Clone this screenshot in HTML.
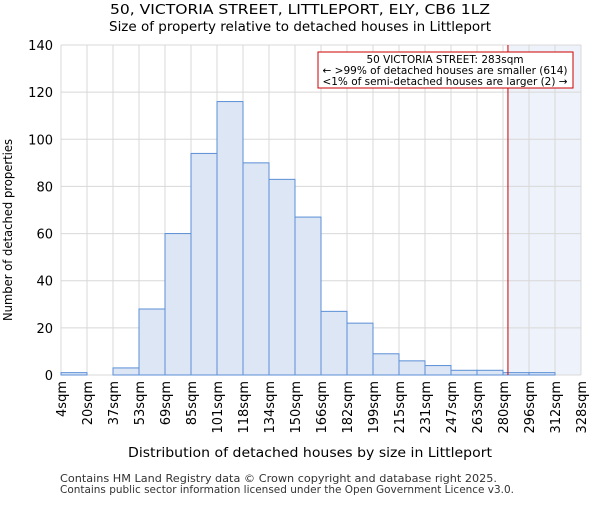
<!DOCTYPE html>
<html><head><meta charset="utf-8"><style>body{margin:0;background:#fff}svg{font-family:"DejaVu Sans","Liberation Sans",sans-serif}</style></head>
<body>
<svg id="c" width="600" height="500">
<text x="300" y="14" font-size="13" text-anchor="middle" textLength="380" lengthAdjust="spacingAndGlyphs">50, VICTORIA STREET, LITTLEPORT, ELY, CB6 1LZ</text>
<text x="300" y="31" font-size="13" text-anchor="middle" textLength="382" lengthAdjust="spacingAndGlyphs">Size of property relative to detached houses in Littleport</text>
<g id="grid"></g><g id="bars"></g><g id="axes"></g>
<text x="310" y="457" font-size="13" text-anchor="middle" textLength="364" lengthAdjust="spacingAndGlyphs">Distribution of detached houses by size in Littleport</text>
<text transform="translate(12,230) rotate(-90)" font-size="12" text-anchor="middle" textLength="182" lengthAdjust="spacingAndGlyphs">Number of detached properties</text>
<text x="60" y="482" font-size="11" fill="#333" textLength="437" lengthAdjust="spacingAndGlyphs">Contains HM Land Registry data © Crown copyright and database right 2025.</text>
<text x="60" y="493" font-size="11" fill="#333" textLength="454" lengthAdjust="spacingAndGlyphs">Contains public sector information licensed under the Open Government Licence v3.0.</text>
</svg>
<script>
const tickLabels=["4sqm","20sqm","37sqm","53sqm","69sqm","85sqm","101sqm","118sqm","134sqm","150sqm","166sqm","182sqm","199sqm","215sqm","231sqm","247sqm","263sqm","280sqm","296sqm","312sqm","328sqm"];
const counts=[1,0,3,28,60,94,116,90,83,67,27,22,9,6,4,2,2,1,1,0];
const yTicks=[0,20,40,60,80,100,120,140];
const propertyBin=17.19;
const X0=61,X1=581,Y0=375,Y1=45,YMAX=140;
const bw=(X1-X0)/counts.length;
const xs=i=>X0+i*bw, ys=v=>Y0-(Y0-Y1)*v/YMAX;
const NS="http://www.w3.org/2000/svg";
function mk(t,a,p,txt){const e=document.createElementNS(NS,t);for(const k in a)e.setAttribute(k,a[k]);if(txt!==undefined)e.textContent=txt;p.appendChild(e);return e;}
const g=document.getElementById('grid'),b=document.getElementById('bars'),ax=document.getElementById('axes');
const px=xs(propertyBin);
let sh=mk('rect',{x:px,y:Y1,width:X1-px,height:Y0-Y1,fill:'#eef2fa'},g);


yTicks.forEach(v=>{let l=mk('line',{x1:X0,x2:X1,y1:ys(v),y2:ys(v),stroke:'#d8d8d8'},g);


let t=mk('text',{x:X0-8,y:ys(v)+5,'font-size':13,'text-anchor':'end'},ax,v);

});
tickLabels.forEach((s,i)=>{let l=mk('line',{x1:xs(i),x2:xs(i),y1:Y1,y2:Y0,stroke:'#d8d8d8'},g);


let t=mk('text',{transform:`translate(${xs(i)+5},${Y0+6}) rotate(-90)`,'font-size':13,'text-anchor':'end'},ax,s);

});
counts.forEach((v,i)=>{if(v<=0)return;let r=mk('rect',{x:xs(i),y:ys(v),width:bw,height:Y0-ys(v),fill:'#dde6f4',stroke:'#5a8fd6','stroke-width':1},b);

});
let rl=mk('line',{x1:px,x2:px,y1:Y1,y2:Y0,stroke:'#cc0000','stroke-width':1},ax);


const box=mk('g',{},ax);


mk('rect',{x:318,y:52,width:255,height:36,fill:'#fff',stroke:'#cc0000'},box);
const ann=["50 VICTORIA STREET: 283sqm","← >99% of detached houses are smaller (614)","<1% of semi-detached houses are larger (2) →"];
const annW=[157,245,245];
ann.forEach((s,i)=>mk('text',{x:445,y:63+i*11,'font-size':10.5,'text-anchor':'middle',textLength:annW[i],lengthAdjust:'spacingAndGlyphs'},box,s));
</script>
</body></html>
